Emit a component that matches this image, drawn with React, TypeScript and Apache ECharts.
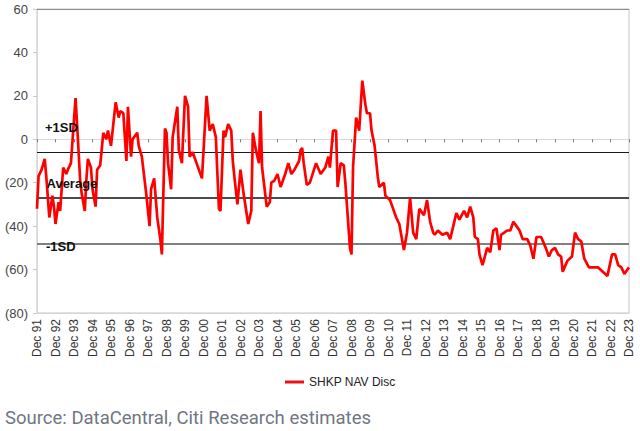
import React, { useEffect, useRef } from "react";
import * as echarts from "echarts";

// x positions are months since Dec 1991
const months = [
  0, 1, 3, 5, 6, 8, 10, 11, 12, 14, 15, 17, 19, 20, 22, 25, 26, 28, 29, 31, 32, 33, 35, 36, 38, 39,
  41, 43, 45, 46, 48, 51, 53, 54, 56, 58, 59, 61, 62, 65, 66, 68, 69, 71, 73, 74, 76, 78, 80, 81,
  83, 84, 85, 87, 88, 91, 92, 94, 96, 98, 99, 101, 104, 106, 107, 110, 112, 114, 116, 118, 119,
  121, 122, 124, 126, 127, 128, 130, 132, 134, 137, 139, 140, 142, 144, 145, 146, 149, 151, 152,
  154, 156, 158, 161, 163, 165, 167, 170, 171, 172, 173, 175, 177, 181, 184, 187, 189, 190, 192,
  194, 195, 197, 199, 200, 203, 204, 205, 207, 209, 211, 213, 214, 216, 217, 219, 221, 222, 225,
  226, 229, 233, 235, 238, 240, 242, 244, 246, 248, 251, 253, 255, 257, 258, 260, 263, 266, 268,
  270, 272, 274, 277, 279, 281, 283, 284, 286, 287, 289, 292, 294, 296, 298, 300, 301, 305, 307,
  309, 311, 313, 315, 318, 320, 322, 324, 327, 330, 332, 334, 336, 338, 340, 341, 344, 347, 349,
  351, 353, 355, 358, 361, 364, 367, 370, 373, 375, 377, 379, 381, 383, 384,
];
const navDisc = [
  -32, -17, -14, -9, -17, -36, -26, -31, -39, -29, -33, -13, -16, -14, -11, 19, 7, -19, -25, -33, -19, -9, -13, -23, -31, -14,
  -12, 3, 0, 4, -3, 17, 10, 13, 12, -10, 15, -8, 0, 3, -3, -8, -14, -26, -40, -23, -18, -36, -46, -53,
  5, 3, -11, -23, 1, 15, -5, -11, 20, 15, -8, -6, -12, -16, -18, 20, 4, 7, 1, -32, -33,
  4, 1, 7, 4, -10, -17, -30, -14, -25, -39, -33, 3, -5, -11, 13, -13, -31, -29, -20,
  -19, -16, -22, -16, -11, -16, -14, -10, -5, -4, -11, -21, -20, -11, -16, -13, -8, -13, 4,
  4, -22, -11, -12, -20, -50, -53, -13, 10, 4, 27, 16, 12, 12, 4, -3, -17, -22, -20,
  -26, -28, -36, -39, -51, -43, -27, -43, -46, -32, -35, -28, -38, -43, -44, -42, -44, -43, -46,
  -40, -34, -37, -33, -36, -31, -36, -45, -46, -53, -58, -50, -52, -42, -41, -51, -44, -42, -42,
  -38, -40, -42, -46, -46, -49, -55, -45, -45, -50, -54, -51, -50, -53, -54, -61, -56, -54, -43,
  -46, -47, -55, -59, -59, -59, -61, -63, -53, -53, -58, -59, -62, -60, -59,
];
const tickLabels = [
  "Dec 91", "Dec 92", "Dec 93", "Dec 94", "Dec 95", "Dec 96", "Dec 97", "Dec 98", "Dec 99", "Dec 00",
  "Dec 01", "Dec 02", "Dec 03", "Dec 04", "Dec 05", "Dec 06", "Dec 07", "Dec 08", "Dec 09", "Dec 10",
  "Dec 11", "Dec 12", "Dec 13", "Dec 14", "Dec 15", "Dec 16", "Dec 17", "Dec 18", "Dec 19", "Dec 20",
  "Dec 21", "Dec 22", "Dec 23",
];
const bandNames = ["+1SD", "Average", "-1SD"];
const bandValues = [-6, -27, -48];
const seriesName = "SHKP NAV Disc";
const sourceText = "Source: DataCentral, Citi Research estimates";

const FONT = 'Arial, "Liberation Sans", sans-serif';

export default function App() {
  const ref = useRef<HTMLDivElement>(null);
  useEffect(() => {
    if (!ref.current) return;
    const chart = echarts.init(ref.current, null, { renderer: "svg" });
    const data = months.map((m, i) => [m, navDisc[i]]);
    const bandStyles = [
      { color: "#1a1a1a", width: 1.2 },
      { color: "#111111", width: 1.6 },
      { color: "#808080", width: 2 },
    ];
    chart.setOption({
      animation: false,
      backgroundColor: "#ffffff",
      grid: {
        left: 37,
        right: 11,
        top: 9,
        bottom: 118,
        containLabel: false,
        show: true,
        borderColor: "#c4c4c4",
        borderWidth: 1,
      },
      legend: {
        data: [seriesName],
        left: 280,
        top: 371,
        icon: "rect",
        itemWidth: 19,
        itemHeight: 3,
        textStyle: { fontSize: 12, fontFamily: FONT, color: "#222" },
      },
      xAxis: [
        {
          type: "value",
          min: 0,
          max: 384,
          interval: 12,
          position: "bottom",
          axisLine: { onZero: false, show: true, lineStyle: { color: "#d6d6d6", width: 1 } },
          axisTick: { show: false },
          splitLine: { show: false },
          axisLabel: {
            rotate: 90,
            margin: 6,
            fontSize: 12,
            fontFamily: FONT,
            color: "#333",
            showMinLabel: true,
            showMaxLabel: true,
            formatter: (v: number) => tickLabels[Math.round(v / 12)] ?? "",
          },
        },
        {
          type: "value",
          min: 0,
          max: 384,
          interval: 12,
          position: "bottom",
          axisLine: { onZero: true, show: true, lineStyle: { color: "#d9d9d9", width: 1 } },
          axisTick: { show: true, inside: false, length: 3, lineStyle: { color: "#777", width: 1 } },
          axisLabel: { show: false },
          splitLine: { show: false },
        },
      ],
      yAxis: {
        type: "value",
        min: -80,
        max: 60,
        interval: 20,
        axisLine: { show: true, lineStyle: { color: "#d6d6d6" } },
        axisTick: { show: true, length: 4, lineStyle: { color: "#c8c8c8" } },
        splitLine: { show: false },
        axisLabel: {
          fontSize: 13,
          fontFamily: FONT,
          color: "#444",
          margin: 9,
          formatter: (v: number) => (v < 0 ? `(${-v})` : `${v}`),
        },
      },
      series: [
        {
          name: seriesName,
          type: "line",
          xAxisIndex: 0,
          data,
          showSymbol: false,
          symbol: "none",
          lineStyle: { color: "#ff0000", width: 2.7 },
          itemStyle: { color: "#e8101a" },
          z: 3,
          markLine: {
            silent: true,
            symbol: "none",
            label: { show: false },
            z: 2,
            data: [
              ...bandValues.map((v, i) => ({
                yAxis: v,
                lineStyle: { type: "solid", ...bandStyles[i] },
              })),
              { yAxis: 60, lineStyle: { type: "solid", color: "#8c8c8c", width: 1.2 } },
            ],
          },
        },
      ],
    });

    const offsets = [-24.5, -14.5, 3];
    const xs = [45, 46.5, 46];
    const graphics: any[] = bandNames.map((name, i) => {
      const y = chart.convertToPixel({ yAxisIndex: 0 }, bandValues[i]) as number;
      return {
        type: "text",
        x: xs[i],
        y: y + offsets[i],
        z: 10,
        style: {
          text: name,
          fontSize: 13,
          fontWeight: "bold",
          fontFamily: FONT,
          fill: "#111",
          verticalAlign: "middle",
        },
      };
    });
    graphics.push({
      type: "text",
      x: 5,
      y: 418,
      style: {
        text: sourceText,
        fontSize: 18.5,
        fontFamily: "Roboto, sans-serif",
        fill: "#6f7683",
        verticalAlign: "middle",
      },
    });
    chart.setOption({ graphic: graphics });

    return () => chart.dispose();
  }, []);
  return (
    <div
      ref={ref}
      style={{ position: "fixed", left: 0, top: 0, width: 640, height: 431, background: "#fff" }}
    />
  );
}
